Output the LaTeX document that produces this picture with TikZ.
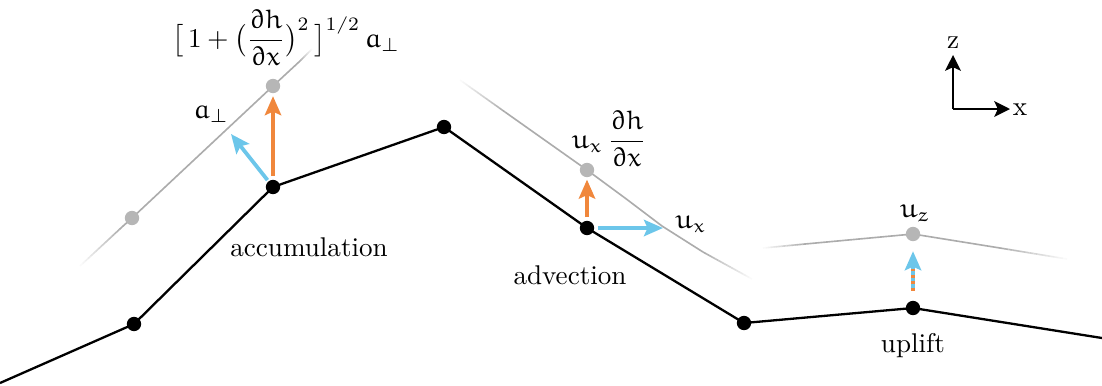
\documentclass[tikz,border=0pt]{standalone}
\usepackage{amsmath}
\IfFileExists{euler.sty}{\usepackage{euler}}{}
\usetikzlibrary{arrows.meta,calc}
\definecolor{gline}{RGB}{172,172,172}
\definecolor{gdot}{RGB}{182,182,182}
\definecolor{orangec}{RGB}{240,135,60}
\definecolor{bluec}{RGB}{108,198,234}
\tikzset{
  blk/.style={draw=black,line width=0.85pt,line join=round},
  gl/.style={draw=gline,line width=0.6pt,line join=round},
  bdot/.style={circle,fill=black,inner sep=0pt,minimum size=5.3pt},
  gdotst/.style={circle,fill=gdot,inner sep=0pt,minimum size=5.3pt},
  head/.style={-{Stealth[length=7pt,width=6pt,inset=1.3pt]}},
  orarrow/.style={head,draw=orangec,line width=1.4pt},
  blarrow/.style={head,draw=bluec,line width=1.4pt},
  axarrow/.style={-{Stealth[length=5.8pt,width=5.8pt,inset=1.3pt]},draw=black,line width=0.8pt},
  lbl/.style={inner sep=0pt,anchor=base}
}
\newcommand\fadein[2]{%
  \foreach \k in {1,...,16}{%
    \pgfmathsetmacro\ta{(\k-1)/16}%
    \pgfmathsetmacro\tb{\k/16}%
    \pgfmathtruncatemacro\pc{100*\k/16}%
    \draw[gl,draw=gline!\pc!white] ($(#1)!\ta!(#2)$) -- ($(#1)!\tb!(#2)$);
  }}
\begin{document}
\begin{tikzpicture}[x=0.369pt,y=-0.369pt]
\useasboundingbox (0,0) rectangle (1102,385);
% black profile coordinates
\coordinate (b0) at (0,383);
\coordinate (p1) at (134,324);
\coordinate (p2) at (273,187);
\coordinate (p3) at (444,127);
\coordinate (p4) at (587,228);
\coordinate (p5) at (744,323);
\coordinate (p6) at (913,308);
\coordinate (b7) at (1102,338);
% grey line 1
\coordinate (L1a) at (80,266);
\coordinate (L1b) at (122,227);
\coordinate (g1) at (132,218);
\coordinate (g2) at (273,86);
\coordinate (L1c) at (300,61);
\coordinate (L1d) at (312,49);
% grey line 2
\coordinate (L2a) at (460,80);
\coordinate (L2b) at (505,112);
\coordinate (g4) at (587,170);
\coordinate (L2c) at (625,198);
\coordinate (L2d) at (662,226);
\coordinate (L2e) at (703,252);
\coordinate (L2f) at (752,279);
% grey line 3
\coordinate (L3a) at (763,248);
\coordinate (L3b) at (805,244);
\coordinate (g6) at (913,234);
\coordinate (L3c) at (1000,248);
\coordinate (L3d) at (1067,259);
% grey lines
\fadein{L1a}{L1b}
\draw[gl] (L1b) -- (g1) -- (g2) -- (L1c);
\fadein{L1d}{L1c}
\fadein{L2a}{L2b}
\draw[gl] (L2b) -- (g4) -- (L2c) -- (L2d) -- (L2e);
\fadein{L2f}{L2e}
\fadein{L3a}{L3b}
\draw[gl] (L3b) -- (g6) -- (L3c);
\fadein{L3d}{L3c}
% black profile
\draw[blk] (b0) -- (p1) -- (p2) -- (p3) -- (p4) -- (p5) -- (p6) -- (b7);
% dots
\node[bdot] (d1) at (p1) {};
\node[bdot] (d2) at (p2) {};
\node[bdot] (d3) at (p3) {};
\node[bdot] (d4) at (p4) {};
\node[bdot] (d5) at (p5) {};
\node[bdot] (d6) at (p6) {};
\node[gdotst] (e1) at (g1) {};
\node[gdotst] (e2) at (g2) {};
\node[gdotst] (e4) at (g4) {};
\node[gdotst] (e6) at (g6) {};
% arrows
\coordinate (a1tip) at (231,134);
\coordinate (a4tip) at (663,228);
\draw[blarrow,shorten <=0.4pt] (d2) -- (a1tip);
\draw[orarrow,shorten <=1.2pt,shorten >=0.9pt] (d2) -- (e2);
\draw[orarrow,shorten <=1.2pt,shorten >=0.7pt] (d4) -- (e4);
\draw[blarrow,shorten <=1.2pt] (d4) -- (a4tip);
\draw[blarrow,shorten <=3.5pt,shorten >=3.5pt] (d6) -- (e6);
\draw[draw=orangec,line width=1.4pt,dash pattern=on 1.2pt off 1.2pt,shorten <=3.5pt,shorten >=10.2pt] (d6) -- (e6);
% axes
\coordinate (ax0) at (953,109);
\coordinate (axz) at (953,55);
\coordinate (axx) at (1010,109);
\draw[axarrow] (ax0) -- (axz);
\draw[axarrow] (ax0) -- (axx);
\node[lbl] (tz) at (953,48) {z};
\node[lbl] (tx) at (1020,115) {x};
% labels
\node[lbl] (tform) at (286,47) {$\bigl[\,\mathrm{1}+\bigl(\dfrac{\partial h}{\partial x}\bigr)^{\mathrm{2}}\,\bigr]^{\mathrm{1/2}}\,a_\perp$};
\node[lbl] (taperp) at (211,118) {$a_\perp$};
\node[lbl] (tacc) at (309,256) {accumulation};
\node[lbl] (tuxdh) at (609,148) {$u_x\,\dfrac{\partial h}{\partial x}$};
\node[lbl] (tux) at (691,228) {$u_x$};
\node[lbl] (tadv) at (570,284) {advection};
\node[lbl] (tuz) at (915,217) {$u_z$};
\node[lbl] (tupl) at (913,352) {uplift};
\end{tikzpicture}
\end{document}
